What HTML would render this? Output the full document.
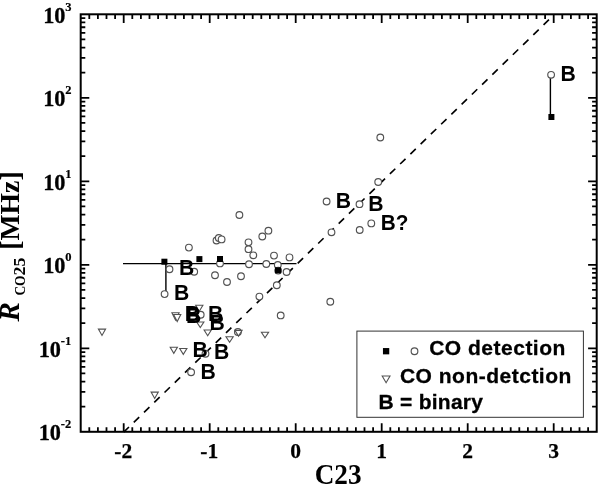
<!DOCTYPE html><html><head><meta charset="utf-8"><style>html,body{margin:0;padding:0;background:#fff;width:600px;height:484px;overflow:hidden}svg{display:block;will-change:transform}</style></head><body>
<svg width="600" height="484" viewBox="0 0 600 484">
<path d="M89.30 431.80v-4.6M89.30 14.30v4.6M97.90 431.80v-4.6M97.90 14.30v4.6M106.50 431.80v-4.6M106.50 14.30v4.6M115.10 431.80v-4.6M115.10 14.30v4.6M123.70 431.80v-8.6M123.70 14.30v8.6M132.30 431.80v-4.6M132.30 14.30v4.6M140.90 431.80v-4.6M140.90 14.30v4.6M149.50 431.80v-4.6M149.50 14.30v4.6M158.10 431.80v-4.6M158.10 14.30v4.6M166.70 431.80v-4.6M166.70 14.30v4.6M175.30 431.80v-4.6M175.30 14.30v4.6M183.90 431.80v-4.6M183.90 14.30v4.6M192.50 431.80v-4.6M192.50 14.30v4.6M201.10 431.80v-4.6M201.10 14.30v4.6M209.70 431.80v-8.6M209.70 14.30v8.6M218.30 431.80v-4.6M218.30 14.30v4.6M226.90 431.80v-4.6M226.90 14.30v4.6M235.50 431.80v-4.6M235.50 14.30v4.6M244.10 431.80v-4.6M244.10 14.30v4.6M252.70 431.80v-4.6M252.70 14.30v4.6M261.30 431.80v-4.6M261.30 14.30v4.6M269.90 431.80v-4.6M269.90 14.30v4.6M278.50 431.80v-4.6M278.50 14.30v4.6M287.10 431.80v-4.6M287.10 14.30v4.6M295.70 431.80v-8.6M295.70 14.30v8.6M304.30 431.80v-4.6M304.30 14.30v4.6M312.90 431.80v-4.6M312.90 14.30v4.6M321.50 431.80v-4.6M321.50 14.30v4.6M330.10 431.80v-4.6M330.10 14.30v4.6M338.70 431.80v-4.6M338.70 14.30v4.6M347.30 431.80v-4.6M347.30 14.30v4.6M355.90 431.80v-4.6M355.90 14.30v4.6M364.50 431.80v-4.6M364.50 14.30v4.6M373.10 431.80v-4.6M373.10 14.30v4.6M381.70 431.80v-8.6M381.70 14.30v8.6M390.30 431.80v-4.6M390.30 14.30v4.6M398.90 431.80v-4.6M398.90 14.30v4.6M407.50 431.80v-4.6M407.50 14.30v4.6M416.10 431.80v-4.6M416.10 14.30v4.6M424.70 431.80v-4.6M424.70 14.30v4.6M433.30 431.80v-4.6M433.30 14.30v4.6M441.90 431.80v-4.6M441.90 14.30v4.6M450.50 431.80v-4.6M450.50 14.30v4.6M459.10 431.80v-4.6M459.10 14.30v4.6M467.70 431.80v-8.6M467.70 14.30v8.6M476.30 431.80v-4.6M476.30 14.30v4.6M484.90 431.80v-4.6M484.90 14.30v4.6M493.50 431.80v-4.6M493.50 14.30v4.6M502.10 431.80v-4.6M502.10 14.30v4.6M510.70 431.80v-4.6M510.70 14.30v4.6M519.30 431.80v-4.6M519.30 14.30v4.6M527.90 431.80v-4.6M527.90 14.30v4.6M536.50 431.80v-4.6M536.50 14.30v4.6M545.10 431.80v-4.6M545.10 14.30v4.6M553.70 431.80v-8.6M553.70 14.30v8.6M562.30 431.80v-4.6M562.30 14.30v4.6M570.90 431.80v-4.6M570.90 14.30v4.6M579.50 431.80v-4.6M579.50 14.30v4.6M588.10 431.80v-4.6M588.10 14.30v4.6M80.70 406.66h4.6M596.70 406.66h-4.6M80.70 391.96h4.6M596.70 391.96h-4.6M80.70 381.53h4.6M596.70 381.53h-4.6M80.70 373.44h4.6M596.70 373.44h-4.6M80.70 366.82h4.6M596.70 366.82h-4.6M80.70 361.23h4.6M596.70 361.23h-4.6M80.70 356.39h4.6M596.70 356.39h-4.6M80.70 352.12h4.6M596.70 352.12h-4.6M80.70 348.30h8.6M596.70 348.30h-8.6M80.70 323.16h4.6M596.70 323.16h-4.6M80.70 308.46h4.6M596.70 308.46h-4.6M80.70 298.03h4.6M596.70 298.03h-4.6M80.70 289.94h4.6M596.70 289.94h-4.6M80.70 283.32h4.6M596.70 283.32h-4.6M80.70 277.73h4.6M596.70 277.73h-4.6M80.70 272.89h4.6M596.70 272.89h-4.6M80.70 268.62h4.6M596.70 268.62h-4.6M80.70 264.80h8.6M596.70 264.80h-8.6M80.70 239.66h4.6M596.70 239.66h-4.6M80.70 224.96h4.6M596.70 224.96h-4.6M80.70 214.53h4.6M596.70 214.53h-4.6M80.70 206.44h4.6M596.70 206.44h-4.6M80.70 199.82h4.6M596.70 199.82h-4.6M80.70 194.23h4.6M596.70 194.23h-4.6M80.70 189.39h4.6M596.70 189.39h-4.6M80.70 185.12h4.6M596.70 185.12h-4.6M80.70 181.30h8.6M596.70 181.30h-8.6M80.70 156.16h4.6M596.70 156.16h-4.6M80.70 141.46h4.6M596.70 141.46h-4.6M80.70 131.03h4.6M596.70 131.03h-4.6M80.70 122.94h4.6M596.70 122.94h-4.6M80.70 116.32h4.6M596.70 116.32h-4.6M80.70 110.73h4.6M596.70 110.73h-4.6M80.70 105.89h4.6M596.70 105.89h-4.6M80.70 101.62h4.6M596.70 101.62h-4.6M80.70 97.80h8.6M596.70 97.80h-8.6M80.70 72.66h4.6M596.70 72.66h-4.6M80.70 57.96h4.6M596.70 57.96h-4.6M80.70 47.53h4.6M596.70 47.53h-4.6M80.70 39.44h4.6M596.70 39.44h-4.6M80.70 32.82h4.6M596.70 32.82h-4.6M80.70 27.23h4.6M596.70 27.23h-4.6M80.70 22.39h4.6M596.70 22.39h-4.6M80.70 18.12h4.6M596.70 18.12h-4.6" stroke="#000" stroke-width="1.8" fill="none"/>
<rect x="80.70" y="14.30" width="516.00" height="417.50" fill="none" stroke="#000" stroke-width="2"/>
<line x1="123.70" y1="432.10" x2="553.70" y2="15.10" stroke="#000" stroke-width="1.65" stroke-dasharray="7.5 6.77" stroke-dashoffset="0.2"/>
<path d="M123 263.6H296.5M165.9 263V291M550.4 78V114" stroke="#000" stroke-width="1.4" fill="none"/>
<circle cx="551.1" cy="74.8" r="3.35" fill="#fff" stroke="#525252" stroke-width="1.15"/>
<circle cx="380.3" cy="137.5" r="3.35" fill="#fff" stroke="#525252" stroke-width="1.15"/>
<circle cx="378.2" cy="182" r="3.35" fill="#fff" stroke="#525252" stroke-width="1.15"/>
<circle cx="326.6" cy="201.5" r="3.35" fill="#fff" stroke="#525252" stroke-width="1.15"/>
<circle cx="359.5" cy="204.2" r="3.35" fill="#fff" stroke="#525252" stroke-width="1.15"/>
<circle cx="371.3" cy="223.4" r="3.35" fill="#fff" stroke="#525252" stroke-width="1.15"/>
<circle cx="359.7" cy="230" r="3.35" fill="#fff" stroke="#525252" stroke-width="1.15"/>
<circle cx="331.5" cy="232.3" r="3.35" fill="#fff" stroke="#525252" stroke-width="1.15"/>
<circle cx="239.4" cy="215" r="3.35" fill="#fff" stroke="#525252" stroke-width="1.15"/>
<circle cx="268.4" cy="230.7" r="3.35" fill="#fff" stroke="#525252" stroke-width="1.15"/>
<circle cx="262.3" cy="236.5" r="3.35" fill="#fff" stroke="#525252" stroke-width="1.15"/>
<circle cx="248.5" cy="242.3" r="3.35" fill="#fff" stroke="#525252" stroke-width="1.15"/>
<circle cx="248.5" cy="249.2" r="3.35" fill="#fff" stroke="#525252" stroke-width="1.15"/>
<circle cx="253.3" cy="255.3" r="3.35" fill="#fff" stroke="#525252" stroke-width="1.15"/>
<circle cx="274" cy="255.6" r="3.35" fill="#fff" stroke="#525252" stroke-width="1.15"/>
<circle cx="289.5" cy="257.4" r="3.35" fill="#fff" stroke="#525252" stroke-width="1.15"/>
<circle cx="216.5" cy="240.5" r="3.35" fill="#fff" stroke="#525252" stroke-width="1.15"/>
<circle cx="218.8" cy="238" r="3.35" fill="#fff" stroke="#525252" stroke-width="1.15"/>
<circle cx="221.6" cy="239.4" r="3.35" fill="#fff" stroke="#525252" stroke-width="1.15"/>
<circle cx="188.9" cy="247.6" r="3.35" fill="#fff" stroke="#525252" stroke-width="1.15"/>
<circle cx="249" cy="264.3" r="3.35" fill="#fff" stroke="#525252" stroke-width="1.15"/>
<circle cx="266.3" cy="264" r="3.35" fill="#fff" stroke="#525252" stroke-width="1.15"/>
<circle cx="220" cy="263.4" r="3.35" fill="#fff" stroke="#525252" stroke-width="1.15"/>
<circle cx="277.8" cy="265" r="3.35" fill="#fff" stroke="#525252" stroke-width="1.15"/>
<circle cx="286.6" cy="272" r="3.35" fill="#fff" stroke="#525252" stroke-width="1.15"/>
<circle cx="276.8" cy="285.3" r="3.35" fill="#fff" stroke="#525252" stroke-width="1.15"/>
<circle cx="241" cy="276.3" r="3.35" fill="#fff" stroke="#525252" stroke-width="1.15"/>
<circle cx="227" cy="282" r="3.35" fill="#fff" stroke="#525252" stroke-width="1.15"/>
<circle cx="215" cy="275.3" r="3.35" fill="#fff" stroke="#525252" stroke-width="1.15"/>
<circle cx="194.2" cy="271.7" r="3.35" fill="#fff" stroke="#525252" stroke-width="1.15"/>
<circle cx="169.5" cy="269.3" r="3.35" fill="#fff" stroke="#525252" stroke-width="1.15"/>
<circle cx="259.4" cy="296.6" r="3.35" fill="#fff" stroke="#525252" stroke-width="1.15"/>
<circle cx="330.3" cy="301.7" r="3.35" fill="#fff" stroke="#525252" stroke-width="1.15"/>
<circle cx="280.7" cy="315.4" r="3.35" fill="#fff" stroke="#525252" stroke-width="1.15"/>
<circle cx="164.6" cy="294.1" r="3.35" fill="#fff" stroke="#525252" stroke-width="1.15"/>
<circle cx="200.7" cy="314.8" r="3.35" fill="#fff" stroke="#525252" stroke-width="1.15"/>
<circle cx="205.5" cy="353.8" r="3.35" fill="#fff" stroke="#525252" stroke-width="1.15"/>
<circle cx="191.1" cy="372.3" r="3.35" fill="#fff" stroke="#525252" stroke-width="1.15"/>
<circle cx="237.9" cy="332" r="3.35" fill="#fff" stroke="#525252" stroke-width="1.15"/>
<circle cx="278.2" cy="270.6" r="3.35" fill="#fff" stroke="#525252" stroke-width="1.15"/>
<path d="M98.40 329.10H105.60L102.00 335.50Z" fill="#fff" stroke="#525252" stroke-width="1.1" stroke-linejoin="miter"/>
<path d="M151.10 392.10H158.30L154.70 398.50Z" fill="#fff" stroke="#525252" stroke-width="1.1" stroke-linejoin="miter"/>
<path d="M171.90 312.80H179.10L175.50 320.00Z" fill="#fff" stroke="#525252" stroke-width="1.1" stroke-linejoin="miter"/>
<path d="M173.60 314.50H180.80L177.20 321.50Z" fill="#fff" stroke="#525252" stroke-width="1.1" stroke-linejoin="miter"/>
<path d="M195.70 305.20H202.90L199.30 311.20Z" fill="#fff" stroke="#525252" stroke-width="1.1" stroke-linejoin="miter"/>
<path d="M196.70 322.00H203.90L200.30 327.50Z" fill="#fff" stroke="#525252" stroke-width="1.1" stroke-linejoin="miter"/>
<path d="M204.10 330.00H211.30L207.70 335.70Z" fill="#fff" stroke="#525252" stroke-width="1.1" stroke-linejoin="miter"/>
<path d="M170.20 347.20H177.40L173.80 353.40Z" fill="#fff" stroke="#525252" stroke-width="1.1" stroke-linejoin="miter"/>
<path d="M179.70 348.50H186.90L183.30 354.40Z" fill="#fff" stroke="#525252" stroke-width="1.1" stroke-linejoin="miter"/>
<path d="M226.00 336.80H233.20L229.60 342.30Z" fill="#fff" stroke="#525252" stroke-width="1.1" stroke-linejoin="miter"/>
<path d="M234.90 330.40H242.10L238.50 336.10Z" fill="#fff" stroke="#525252" stroke-width="1.1" stroke-linejoin="miter"/>
<path d="M261.40 332.20H268.60L265.00 337.70Z" fill="#fff" stroke="#525252" stroke-width="1.1" stroke-linejoin="miter"/>
<rect x="161.40" y="258.70" width="6" height="6" fill="#000"/>
<rect x="196.40" y="256.10" width="6" height="6" fill="#000"/>
<rect x="217.00" y="256.00" width="6" height="6" fill="#000"/>
<rect x="275.00" y="267.30" width="6" height="6" fill="#000"/>
<rect x="548.40" y="114.00" width="6" height="6" fill="#000"/>
<g font-family="Liberation Sans" font-weight="bold" font-size="22.1">
<text x="179.08" y="275.30" textLength="15.29" lengthAdjust="spacingAndGlyphs">B</text>
<text x="174.08" y="300.00" textLength="15.29" lengthAdjust="spacingAndGlyphs">B</text>
<text x="184.78" y="321.40" textLength="15.29" lengthAdjust="spacingAndGlyphs">B</text>
<text x="185.88" y="323.20" textLength="15.29" lengthAdjust="spacingAndGlyphs">B</text>
<text x="207.88" y="320.50" textLength="15.29" lengthAdjust="spacingAndGlyphs">B</text>
<text x="209.38" y="329.70" textLength="15.29" lengthAdjust="spacingAndGlyphs">B</text>
<text x="192.48" y="356.50" textLength="15.29" lengthAdjust="spacingAndGlyphs">B</text>
<text x="214.08" y="359.30" textLength="15.29" lengthAdjust="spacingAndGlyphs">B</text>
<text x="200.58" y="378.50" textLength="15.29" lengthAdjust="spacingAndGlyphs">B</text>
<text x="335.78" y="208.00" textLength="15.29" lengthAdjust="spacingAndGlyphs">B</text>
<text x="368.28" y="211.00" textLength="15.29" lengthAdjust="spacingAndGlyphs">B</text>
<text x="560.38" y="80.80" textLength="15.29" lengthAdjust="spacingAndGlyphs">B</text>
<text x="380.78" y="229.60" textLength="27.62" lengthAdjust="spacingAndGlyphs">B?</text>
</g>
<rect x="356.9" y="331.1" width="226.5" height="86.2" fill="none" stroke="#333" stroke-width="1"/>
<rect x="382.95" y="348.05" width="6.3" height="6.3" fill="#000"/>
<circle cx="414.5" cy="351.3" r="3.35" fill="#fff" stroke="#525252" stroke-width="1.15"/>
<path d="M382.20 376.00H390.00L386.10 382.70Z" fill="#fff" stroke="#525252" stroke-width="1.1" stroke-linejoin="miter"/>
<g font-family="Liberation Sans" font-weight="bold" font-size="21" letter-spacing="0.5" stroke="#000" stroke-width="0.3">
<text x="429.2" y="355.2">CO detection</text>
<text x="399.9" y="382.5">CO non-detction</text>
<text x="378.6" y="409.4" letter-spacing="0.25">B = binary</text>
</g>
<g font-family="Liberation Serif" font-weight="bold" font-size="22.3" fill="#000" stroke="#000" stroke-width="0.3">
<text x="43.2" y="22.6">10</text>
<text x="43.2" y="106.3">10</text>
<text x="43.2" y="189.6">10</text>
<text x="43.2" y="273.1">10</text>
<text x="38.7" y="356.8">10</text>
<text x="38.7" y="440">10</text>
</g>
<g font-family="Liberation Serif" font-weight="bold" font-size="12.5" fill="#000" stroke="#000" stroke-width="0.2">
<text x="65.2" y="10.8">3</text>
<text x="65.2" y="94">2</text>
<text x="65.2" y="177.8">1</text>
<text x="65.2" y="260.6">0</text>
<text x="60.8" y="345">-1</text>
<text x="60.8" y="428">-2</text>
</g>
<g font-family="Liberation Serif" font-weight="bold" font-size="21.5" fill="#000" stroke="#000" stroke-width="0.25" text-anchor="middle">
<text x="123.20" y="458.3">-2</text>
<text x="209.20" y="458.3">-1</text>
<text x="295.70" y="458.3">0</text>
<text x="381.70" y="458.3">1</text>
<text x="467.70" y="458.3">2</text>
<text x="553.70" y="458.3">3</text>
</g>
<text x="314.7" y="484" font-family="Liberation Serif" font-weight="bold" font-size="29" textLength="46.9" lengthAdjust="spacingAndGlyphs">C23</text>
<g transform="translate(18.6,322) rotate(-90)" font-family="Liberation Serif" font-weight="bold"><text x="0.4" y="0" font-size="29" font-style="italic">R</text><text x="26.4" y="6.6" font-size="13.8" textLength="20.2" lengthAdjust="spacingAndGlyphs">CO</text><text x="46.6" y="6.6" font-size="17.2" textLength="17.8" lengthAdjust="spacingAndGlyphs">25</text><text x="72.3" y="0" font-size="27" textLength="78.3" lengthAdjust="spacingAndGlyphs">[MHz]</text></g>
</svg></body></html>
